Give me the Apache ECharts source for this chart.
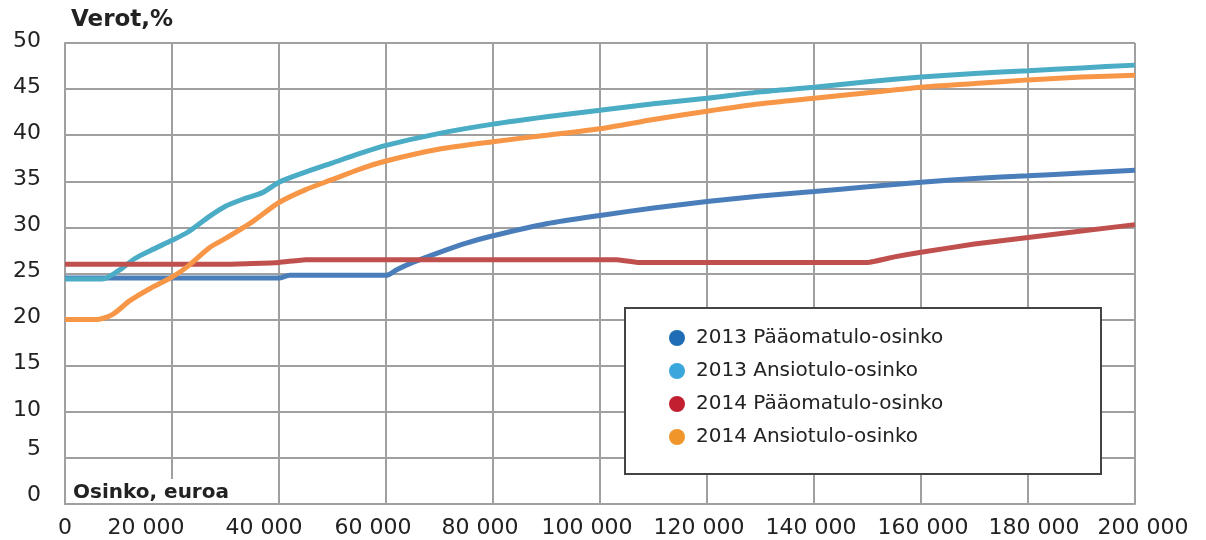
<!DOCTYPE html>
<html>
<head>
<meta charset="utf-8">
<script src="https://cdn.jsdelivr.net/npm/echarts@6/dist/echarts.min.js"></script>
<style>
html,body{margin:0;padding:0;background:#fff;}
#chart{width:1206px;height:540px;}
</style>
</head>
<body>
<div id="chart"></div>
<script>
// ---- data ----
const seriesNames = ['2013 Pääomatulo-osinko', '2013 Ansiotulo-osinko', '2014 Pääomatulo-osinko', '2014 Ansiotulo-osinko'];

const x2013P = [0, 40000, 42000, 60000, 62000, 65000, 70000, 75000, 80000, 90000, 100000, 110000, 120000, 130000, 140000, 150000, 160000, 170000, 180000, 190000, 200000];
const y2013P = [24.5, 24.5, 24.8, 24.8, 25.4, 26.2, 27.3, 28.3, 29.1, 30.4, 31.3, 32.1, 32.8, 33.4, 33.9, 34.4, 34.9, 35.3, 35.6, 35.9, 36.2];

const x2013A = [0, 7000, 10000, 13000, 16000, 20000, 23000, 27000, 30000, 33000, 37000, 40000, 44000, 50000, 55000, 60000, 70000, 80000, 90000, 100000, 110000, 120000, 130000, 140000, 150000, 160000, 170000, 180000, 190000, 200000];
const y2013A = [24.4, 24.4, 25.3, 26.6, 27.5, 28.6, 29.5, 31.2, 32.3, 33.0, 33.8, 34.9, 35.8, 37.0, 38.0, 38.9, 40.2, 41.2, 42.0, 42.7, 43.4, 44.0, 44.7, 45.2, 45.8, 46.3, 46.7, 47.0, 47.3, 47.6];

const x2014P = [0, 30000, 40000, 45000, 103000, 107000, 150000, 155000, 160000, 170000, 180000, 190000, 200000];
const y2014P = [26.0, 26.0, 26.2, 26.5, 26.5, 26.2, 26.2, 26.8, 27.3, 28.2, 28.9, 29.6, 30.3];

const x2014A = [0, 6000, 9000, 12000, 16000, 20000, 23000, 27000, 30000, 35000, 40000, 45000, 50000, 55000, 60000, 70000, 80000, 90000, 100000, 110000, 120000, 130000, 140000, 150000, 160000, 170000, 180000, 190000, 200000];
const y2014A = [20.0, 20.0, 20.6, 22.0, 23.4, 24.6, 25.8, 27.8, 28.8, 30.6, 32.7, 34.1, 35.2, 36.3, 37.2, 38.5, 39.3, 40.0, 40.7, 41.7, 42.6, 43.4, 44.0, 44.6, 45.2, 45.6, 46.0, 46.3, 46.5];

const yAxisTitle = 'Verot,%';
const xAxisTitle = 'Osinko, euroa';

// ---- styling ----
const lineColors = ['#4a7ebb', '#4bacc6', '#c0504d', '#f79646'];
const legendDotColors = ['#1f6db5', '#3aa7dc', '#c21f30', '#f0952a'];
const smoothness = [0.25, 0.25, 0.1, 0.25];
const FONT = 'DejaVu Sans';
// horizontal nudges (px) of x tick labels, as placed in the original picture
const xLabelNudge = {20000: -26, 40000: -15, 60000: -13, 80000: -13, 100000: -13, 120000: -8, 140000: -3, 160000: 2, 180000: 6, 200000: 8};

const pair = (xs, ys) => xs.map((x, i) => [x, ys[i]]);
const seriesData = [pair(x2013P, y2013P), pair(x2013A, y2013A), pair(x2014P, y2014P), pair(x2014A, y2014A)];

const fmtThousands = v => String(v).replace(/\B(?=(\d{3})+(?!\d))/g, ' ');
const xRich = {t: {fontFamily: FONT, fontSize: 22, color: '#222'}};
const xFormatter = v => {
  const d = xLabelNudge[v] || 0;
  const key = 's' + String(v);
  xRich[key] = {fontFamily: FONT, fontSize: 22, width: Math.max(1, Math.abs(2 * d))};
  const label = '{t|' + fmtThousands(v) + '}';
  if (d < 0) return label + '{' + key + '| }';
  if (d > 0) return '{' + key + '| }' + label;
  return label;
};
for (let v = 0; v <= 200000; v += 20000) xFormatter(v);

const chart = echarts.init(document.getElementById('chart'), null, {renderer: 'canvas'});
chart.setOption({
  animation: false,
  backgroundColor: '#fff',
  grid: {left: 65, right: 71, top: 43, bottom: 36, containLabel: false},
  title: [
    {text: yAxisTitle, left: 71, top: 9, padding: 0,
     textStyle: {fontFamily: FONT, fontSize: 23, fontWeight: 'bold', color: '#222'}},
    {text: xAxisTitle, left: 67, top: 479, padding: [4, 44, 0, 6], backgroundColor: '#fff', z: 8,
     textStyle: {fontFamily: FONT, fontSize: 20, fontWeight: 'bold', color: '#222', lineHeight: 20}}
  ],
  xAxis: {
    type: 'value', min: 0, max: 200000, interval: 20000,
    axisLine: {show: true, lineStyle: {color: '#a0a0a0', width: 2}},
    axisTick: {show: false},
    splitLine: {show: true, lineStyle: {color: '#a0a0a0', width: 2}},
    axisLabel: {fontFamily: FONT, fontSize: 22, color: '#222', margin: 13, formatter: xFormatter, rich: xRich}
  },
  yAxis: {
    type: 'value', min: 0, max: 50, interval: 5,
    axisLine: {show: true, lineStyle: {color: '#a0a0a0', width: 2}},
    axisTick: {show: false},
    splitLine: {show: true, lineStyle: {color: '#a0a0a0', width: 2}},
    axisLabel: {
      fontFamily: FONT, fontSize: 22, color: '#222', margin: 24,
      formatter: v => (v === 0 || v === 5) ? '{u|' + v + '}' : '{n|' + v + '}',
      rich: {
        u: {fontFamily: FONT, fontSize: 22, color: '#222', padding: [0, 0, 18, 0]},
        n: {fontFamily: FONT, fontSize: 22, color: '#222', padding: [0, 0, 4, 0]}
      }
    }
  },
  legend: {
    orient: 'vertical', left: 669, top: 328, padding: 0, z: 20,
    itemGap: 13, itemWidth: 16, itemHeight: 16, icon: 'circle',
    selectedMode: false,
    textStyle: {fontFamily: FONT, fontSize: 20, color: '#222', lineHeight: 20, padding: [0, 0, 0, 6]},
    data: seriesNames.map((n, i) => ({name: n, itemStyle: {color: legendDotColors[i]}}))
  },
  graphic: [{
    type: 'rect', z: 10,
    shape: {x: 625, y: 308, width: 476, height: 166},
    style: {fill: '#fff', stroke: '#444', lineWidth: 2}
  }],
  series: seriesNames.map((n, i) => ({
    name: n, type: 'line', data: seriesData[i],
    showSymbol: false, smooth: smoothness[i], z: 3,
    lineStyle: {color: lineColors[i], width: 5},
    itemStyle: {color: lineColors[i]}
  }))
});
</script>
</body>
</html>
